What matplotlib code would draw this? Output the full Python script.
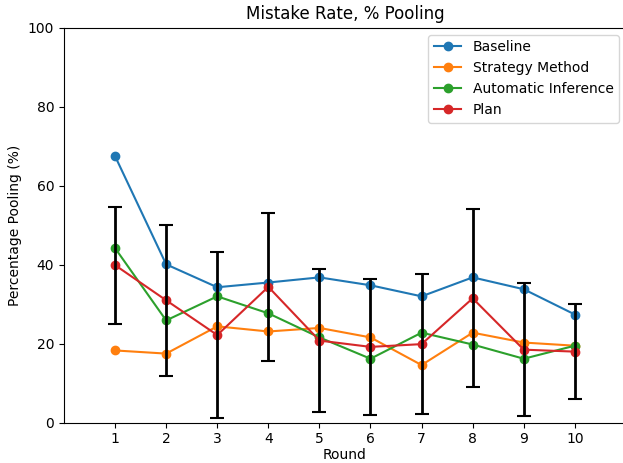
import matplotlib
matplotlib.use("Agg")
import matplotlib.pyplot as plt

rounds = [1, 2, 3, 4, 5, 6, 7, 8, 9, 10]

baseline = [67.5, 40.1, 34.3, 35.5, 36.8, 34.8, 32.0, 36.8, 33.8, 27.4]
strategy_method = [18.3, 17.5, 24.4, 23.1, 24.0, 21.6, 14.6, 22.8, 20.3, 19.5]
automatic_inference = [44.2, 25.9, 32.0, 27.7, 21.6, 16.2, 22.8, 19.8, 16.2, 19.5]
plan = [39.9, 31.0, 22.2, 34.4, 20.8, 19.2, 19.9, 31.5, 18.5, 18.0]
plan_err = [14.8, 19.1, 21.0, 18.7, 18.2, 17.2, 17.8, 22.5, 16.9, 12.0]

fig = plt.figure(figsize=(6.23, 4.63), dpi=100)
ax = fig.add_axes([0.1027, 0.0870, 0.902, 0.853])

ax.plot(rounds, baseline, marker="o", label="Baseline")
ax.plot(rounds, strategy_method, marker="o", label="Strategy Method")
ax.plot(rounds, automatic_inference, marker="o", label="Automatic Inference")
ax.plot(rounds, plan, marker="o", label="Plan")
ax.errorbar(rounds, plan, yerr=plan_err, fmt="none", ecolor="black",
            elinewidth=2, capsize=5, capthick=1.5)

ax.set_xlim(0, 11)
ax.set_ylim(0, 100)
ax.set_xticks(rounds)
ax.set_title("Mistake Rate, % Pooling")
ax.set_xlabel("Round", labelpad=1)
ax.set_ylabel("Percentage Pooling (%)")
ax.legend(loc="upper right")

fig.savefig("out.png", dpi=100)
